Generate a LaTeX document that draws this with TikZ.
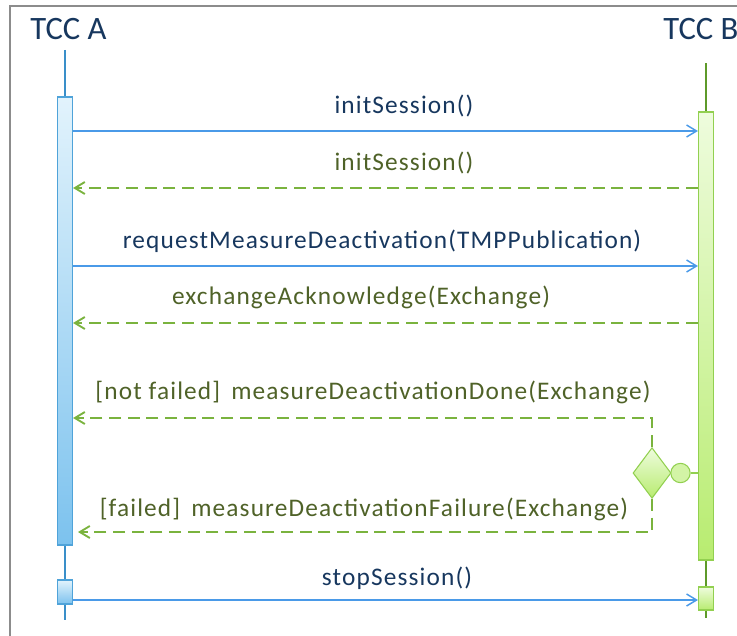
\documentclass[tikz,border=0pt]{standalone}
\usepackage{fontspec}
\setmainfont{Carlito}
\newfontfamily\msgfont[LetterSpace=4.5]{Carlito}
\usetikzlibrary{arrows.meta,shapes.geometric}
\definecolor{navy}{HTML}{17375E}
\definecolor{olive}{HTML}{4F6228}
\definecolor{msgblue}{HTML}{4A9AE8}
\definecolor{msggreen}{HTML}{7AB33E}
\definecolor{lifeA}{HTML}{3A8FC9}
\definecolor{lifeB}{HTML}{5E9A2A}
\definecolor{edgeA}{HTML}{4FA3D9}
\definecolor{edgeB}{HTML}{92D050}
\definecolor{paleA}{HTML}{E2F3FC}
\definecolor{deepA}{HTML}{7CC2EE}
\definecolor{paleB}{HTML}{EEFCDD}
\definecolor{deepB}{HTML}{B8EC70}
\begin{document}
\begin{tikzpicture}
[x=0.75pt,y=-0.75pt,
every node/.style={inner sep=0pt},
actor/.style={font=\fontsize{24.5}{28}\selectfont,text=navy,anchor=base},
barA/.style={draw=edgeA,line width=0.8pt,top color=paleA,bottom color=deepA,minimum width=11.25pt},
barB/.style={draw=edgeB,line width=0.8pt,top color=paleB,bottom color=deepB,minimum width=11.25pt},
call/.style={draw=msgblue,line width=1.1pt,-{Straight Barb[length=7.5pt,width=9pt]}},
reply/.style={draw=msggreen,line width=1.4pt,dash pattern=on 9pt off 5pt,-{Straight Barb[length=7.5pt,width=9pt]}},
lbl/.style={font=\msgfont\fontsize{19}{22}\selectfont,anchor=base},
]
\useasboundingbox (0,0) rectangle (737,635);
\draw[color=black!45,line width=1.3pt] (10,640) -- (10,6) -- (745,6);

\node[actor] (nameA) at (68.5,40) {TCC A};
\node[actor,anchor=base west] (nameB) at (663,40) {TCC B};

\node[barA,minimum height=336pt] (actA) at (65,321) {};
\node[barA,minimum height=18pt] (stopA) at (65,592) {};
\node[barB,minimum height=336pt] (actB) at (706,336) {};
\node[barB,minimum height=17.25pt] (stopB) at (706,598.5) {};

\coordinate (topA) at (65,50);
\coordinate (endA) at (65,620);
\coordinate (topB) at (706,63);
\coordinate (endB) at (706,618);
\draw[lifeA,line width=1.6pt] (topA) -- (actA.north) (actA.south) -- (stopA.north) (stopA.south) -- (endA);
\draw[lifeB,line width=1.6pt] (topB) -- (actB.north) (actB.south) -- (stopB.north) (stopB.south) -- (endB);

\draw[call] (actA.east |- 0,131) -- (actB.west |- 0,131);
\node[lbl,text=navy] (m1) at (404,113) {initSession()};
\draw[reply] (actB.west |- 0,188) -- (actA.east |- 0,188);
\node[lbl,text=olive] (m2) at (404,170) {initSession()};
\draw[call] (actA.east |- 0,266) -- (actB.west |- 0,266);
\node[lbl,text=navy] (m3) at (382,248) {requestMeasureDeactivation(TMPPublication)};
\draw[reply] (actB.west |- 0,323) -- (actA.east |- 0,323);
\node[lbl,text=olive] (m4) at (361,304) {exchangeAcknowledge(Exchange)};

\node[diamond,draw=edgeB,line width=0.8pt,top color=paleB,bottom color=deepB,minimum width=28.5pt,minimum height=38pt] (choice) at (652,473) {};
\node[circle,draw=edgeB,line width=0.8pt,fill=paleB!50!deepB,minimum size=14.5pt] (fork) at (680.5,473) {};
\draw[edgeB,line width=1.2pt] (fork) -- (actB.west |- fork);
\draw[reply] (choice.north) -- (choice.north |- 0,418) -- (actA.east |- 0,418);
\node[lbl,text=olive] (m5) at (373,399) {[not failed]\, measureDeactivationDone(Exchange)};
\draw[reply] (choice.south) -- (choice.south |- 0,532) -- (78,532);
\node[lbl,text=olive] (m6) at (364,516) {[failed]\, measureDeactivationFailure(Exchange)};

\draw[call] (stopA.east |- 0,600) -- (stopB.west |- 0,600);
\node[lbl,text=navy] (m7) at (397,585) {stopSession()};
\end{tikzpicture}
\end{document}
